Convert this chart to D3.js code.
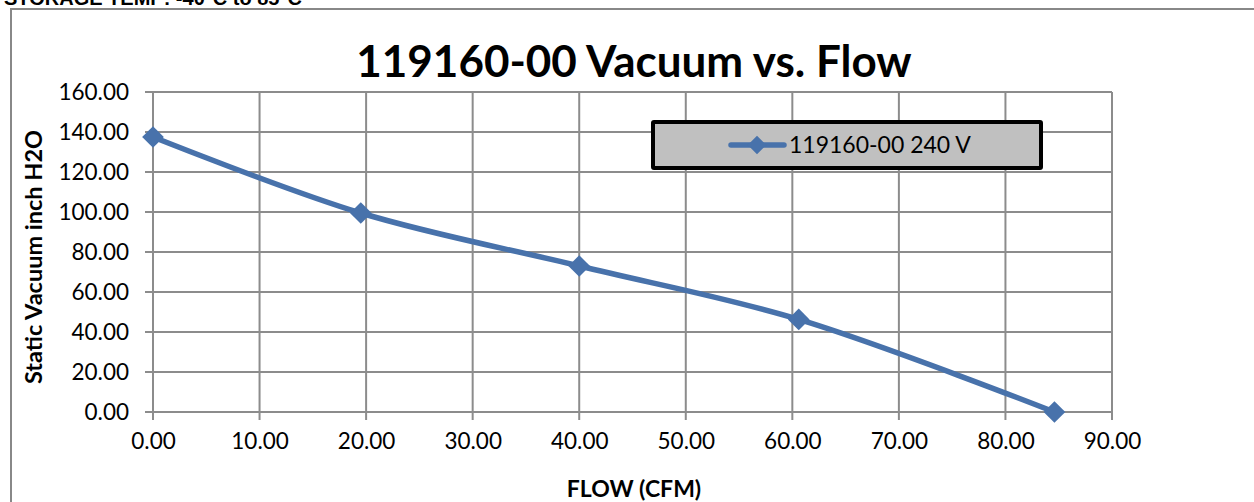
<!DOCTYPE html>
<html><head><meta charset="utf-8">
<script src="https://cdn.jsdelivr.net/npm/d3@7"></script>
<style>html,body{margin:0;padding:0;background:#fff;overflow:hidden}</style>
</head><body>
<svg id="c" width="1254" height="502"></svg>
<script>
const flow = [0, 19.5, 40, 60.6, 84.6];
const vacuum = [137.5, 99.5, 73, 46.3, 0];
const xTicks = [0, 10, 20, 30, 40, 50, 60, 70, 80, 90];
const yTicks = [0, 20, 40, 60, 80, 100, 120, 140, 160];
const seriesName = "119160-00 240 V";
const title = "119160-00 Vacuum vs. Flow";
const xLabel = "FLOW (CFM)";
const yLabel = "Static Vacuum inch H2O";
const topNote = "STORAGE TEMP: -40°C to 85°C";

const svg = d3.select("#c");
const font = "Lato, 'Open Sans', sans-serif";
const blue = "#4872ab";
const grid = "#8c8c8c";

// top cut-off note
svg.append("text").attr("x", 4).attr("y", 5).attr("font-family", "Arial, 'Liberation Sans', sans-serif")
  .attr("font-weight", "bold").attr("font-size", 20).attr("fill", "#000").text(topNote);

// outer chart border
svg.append("rect").attr("x", 11).attr("y", 9).attr("width", 1400).attr("height", 600)
  .attr("fill", "#fff").attr("stroke", "#888").attr("stroke-width", 2);

const L = 153, R = 1112, T = 92, B = 412;
const x = d3.scaleLinear().domain([0, 90]).range([L, R]);
const y = d3.scaleLinear().domain([0, 160]).range([B, T]);

// grid
const g = svg.append("g");
g.selectAll(".vg").data(xTicks).join("line")
  .attr("x1", d => x(d)).attr("x2", d => x(d)).attr("y1", T).attr("y2", B + 8)
  .attr("stroke", grid).attr("stroke-width", 2);
g.selectAll(".hg").data(yTicks).join("line")
  .attr("x1", L - 8).attr("x2", R).attr("y1", d => y(d)).attr("y2", d => y(d))
  .attr("stroke", grid).attr("stroke-width", 2);

// tick labels via d3 axes
const xAxis = svg.append("g").attr("transform", `translate(0,${B})`)
  .call(d3.axisBottom(x).tickValues(xTicks).tickFormat(d3.format(".2f")).tickSize(0).tickPadding(22));
const yAxis = svg.append("g").attr("transform", `translate(${L},0)`)
  .call(d3.axisLeft(y).tickValues(yTicks).tickFormat(d3.format(".2f")).tickSize(0).tickPadding(24));
[xAxis, yAxis].forEach(a => {
  a.select(".domain").remove();
  a.selectAll("text").attr("font-family", font).attr("font-size", 22.5).attr("fill", "#000");
});
xAxis.selectAll("text").attr("dy", "0.66em");

// title
svg.append("text").attr("x", 634).attr("y", 77).attr("text-anchor", "middle")
  .attr("font-family", font).attr("font-weight", "bold").attr("font-size", 44).attr("fill", "#000").text(title);

// axis titles
svg.append("text").attr("x", 634).attr("y", 497).attr("text-anchor", "middle")
  .attr("font-family", font).attr("font-weight", "bold").attr("font-size", 23).attr("fill", "#000").text(xLabel);
svg.append("text").attr("transform", `translate(42,${(T + B) / 2 + 5}) rotate(-90)`).attr("text-anchor", "middle")
  .attr("font-family", font).attr("font-weight", "bold").attr("font-size", 23.5).attr("fill", "#000").text(yLabel);

// series
const pts = flow.map((f, i) => [f, vacuum[i]]);
const line = d3.line().x(d => x(d[0])).y(d => y(d[1])).curve(d3.curveCatmullRom.alpha(0.5));
svg.append("path").datum(pts).attr("d", line).attr("fill", "none")
  .attr("stroke", blue).attr("stroke-width", 5.5).attr("stroke-linejoin", "round");
const diamond = d3.symbol().type(d3.symbolDiamond2).size(300);
svg.selectAll(".m").data(pts).join("path")
  .attr("transform", d => `translate(${x(d[0])},${y(d[1])})`)
  .attr("d", diamond).attr("fill", blue);

// legend
const lg = svg.append("g");
lg.append("rect").attr("x", 653).attr("y", 122).attr("width", 388).attr("height", 46)
  .attr("fill", "#c0c0c0").attr("stroke", "#000").attr("stroke-width", 4).attr("rx", 1);
lg.append("line").attr("x1", 731).attr("x2", 784).attr("y1", 145).attr("y2", 145)
  .attr("stroke", blue).attr("stroke-width", 5.5).attr("stroke-linecap", "round");
lg.append("path").attr("transform", "translate(757,145)").attr("d", d3.symbol().type(d3.symbolDiamond2).size(220)).attr("fill", blue);
lg.append("text").attr("x", 789).attr("y", 153).attr("font-family", font).attr("font-size", 23).attr("fill", "#000").text(seriesName);
</script>
</body></html>
